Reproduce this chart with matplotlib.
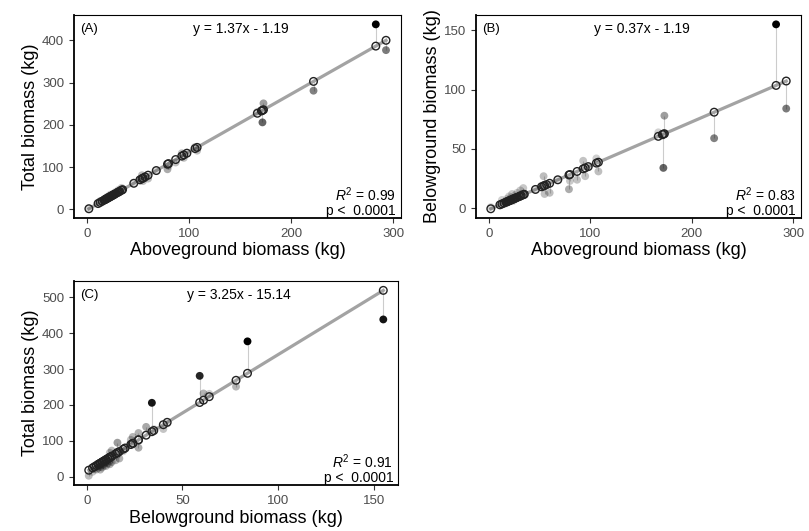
import matplotlib
matplotlib.use("Agg")
import matplotlib.pyplot as plt
import numpy as np

plt.rcParams['font.family'] = ['Liberation Sans', 'DejaVu Sans']
plt.rcParams['mathtext.fontset'] = 'custom'
plt.rcParams['mathtext.rm'] = 'Liberation Sans'
plt.rcParams['mathtext.it'] = 'Liberation Sans:italic'

# tree biomass (kg)
ag = [2, 11, 13, 15, 17, 18, 19, 20, 21, 22, 23, 24, 25, 26, 27, 28, 30, 31, 32, 34,
      35, 46, 52, 54, 55, 57, 60, 68, 79, 80, 87, 93, 95, 98, 106, 108, 167, 171, 172, 173,
      222, 283, 293]
bg = [1, 3, 7, 5, 4, 8, 6, 10, 7, 9, 12, 6, 8, 11, 9, 13, 10, 15, 12, 17,
      11, 16, 19, 27, 12, 20, 13, 24, 16, 23, 24, 40, 27, 35, 42, 31, 64, 61, 34, 78,
      59, 155, 84]
total = [3, 14, 20, 20, 21, 26, 25, 30, 28, 31, 35, 30, 33, 37, 36, 41, 40, 46, 44, 51,
         46, 62, 71, 81, 67, 77, 73, 92, 95, 103, 111, 133, 122, 133, 148, 139, 231, 232, 206, 251,
         281, 438, 377]

# fitted lines (slope, intercept) and the labels printed on the panels
slopes = [1.37, 0.37, 3.25]
intercepts = [-1.19, -1.19, 15.14]
tags = ['(A)', '(B)', '(C)']
equations = ['y = 1.37x - 1.19', 'y = 0.37x - 1.19', 'y = 3.25x - 15.14']
r2_values = ['0.99', '0.83', '0.91']
xlabels = ['Aboveground biomass (kg)', 'Aboveground biomass (kg)', 'Belowground biomass (kg)']
ylabels = ['Total biomass (kg)', 'Belowground biomass (kg)', 'Total biomass (kg)']
yticks = [[0, 100, 200, 300, 400], [0, 50, 100, 150], [0, 100, 200, 300, 400, 500]]
xticks = [[0, 100, 200, 300], [0, 100, 200, 300], [0, 50, 100, 150]]


def residual_panel(ax, x, y, i):
    x = np.array(x, dtype=float)
    y = np.array(y, dtype=float)
    pred = slopes[i] * x + intercepts[i]
    res = np.abs(y - pred)
    # darker / more opaque points for larger residuals
    alpha = np.clip(0.12 + 0.88 * (res - res.min()) / (res.max() - res.min()), 0, 1)

    ax.vlines(x, y, pred, color='black', alpha=0.2, lw=0.8, zorder=1)
    xs = np.array([x.min(), x.max()])
    ax.plot(xs, slopes[i] * xs + intercepts[i], color='#a3a3a3', lw=2.3, zorder=2)
    cols = np.zeros((len(x), 4))
    cols[:, 3] = alpha
    ax.scatter(x, y, c=cols, s=32, edgecolors='none', zorder=3)
    ax.scatter(x, pred, facecolors='none', edgecolors='#222222', s=30, linewidths=1.0, zorder=4)

    ax.set_xticks(xticks[i])
    ax.set_yticks(yticks[i])
    ax.set_xlabel(xlabels[i], fontsize=13, labelpad=2)
    ax.set_ylabel(ylabels[i], fontsize=13, labelpad=2)
    ax.tick_params(labelsize=9.5, labelcolor='#4d4d4d', color='#333333', length=3.5, width=0.8)
    for s in ['left', 'bottom']:
        ax.spines[s].set_linewidth(1.3)
    for s in ['top', 'right']:
        ax.spines[s].set_linewidth(0.8)

    ax.text(0.02, 0.93, tags[i], transform=ax.transAxes, fontsize=9.5, va='center', ha='left')
    ax.text(0.51, 0.93, equations[i], transform=ax.transAxes, fontsize=10, va='center', ha='center')
    ax.text(0.985, 0.115, r'$R^2$ = ' + r2_values[i], transform=ax.transAxes, fontsize=10,
            va='center', ha='right')
    ax.text(0.985, 0.035, 'p <  0.0001', transform=ax.transAxes, fontsize=10, va='center', ha='right')


fig = plt.figure(figsize=(8.09, 5.31), dpi=100)
axA = fig.add_axes([0.0915, 0.5895, 0.404, 0.382])
axB = fig.add_axes([0.5884, 0.5895, 0.4017, 0.382])
axC = fig.add_axes([0.0915, 0.0866, 0.4005, 0.384])

residual_panel(axA, ag, total, 0)
residual_panel(axB, ag, bg, 1)
residual_panel(axC, bg, total, 2)

fig.savefig('out.png', dpi=100)
